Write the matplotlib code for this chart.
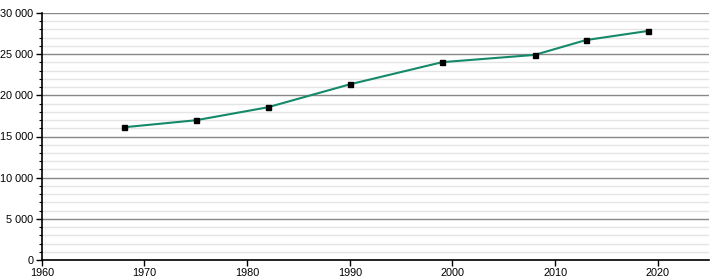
import matplotlib
matplotlib.use("Agg")
import matplotlib.pyplot as plt
from matplotlib.ticker import MultipleLocator, FuncFormatter

# données de population
annees = [1968, 1975, 1982, 1990, 1999, 2008, 2013, 2019]
population = [16120, 16970, 18540, 21330, 24020, 24900, 26700, 27800]

plt.rcParams['font.family'] = ['Liberation Sans', 'DejaVu Sans']

fig = plt.figure(figsize=(7.2, 2.8), dpi=100)
ax = fig.add_axes([0.058, 0.071, 0.927, 0.883])

ax.plot(annees, population, color='#15896a', linewidth=1.5, zorder=3)
ax.plot(annees, population, 's', color='black', markersize=3.6, zorder=4)

ax.set_xlim(1960, 2025)
ax.set_ylim(0, 30000)
ax.xaxis.set_major_locator(MultipleLocator(10))
ax.yaxis.set_major_locator(MultipleLocator(5000))
ax.yaxis.set_minor_locator(MultipleLocator(1000))
ax.yaxis.set_major_formatter(FuncFormatter(lambda v, p: f"{int(v):,}".replace(",", " ")))

ax.grid(axis='y', which='major', color='#888888', linewidth=1)
ax.grid(axis='y', which='minor', color='#e4e4e4', linewidth=1)
ax.set_axisbelow(True)

for s in ['top', 'right']:
    ax.spines[s].set_visible(False)
ax.spines['left'].set_linewidth(1.2)
ax.spines['bottom'].set_linewidth(1.2)
ax.tick_params(axis='both', labelsize=7.8, length=4, width=1, pad=2)
ax.tick_params(axis='y', which='minor', length=2, width=0.8)

fig.savefig('out.png', dpi=100)
